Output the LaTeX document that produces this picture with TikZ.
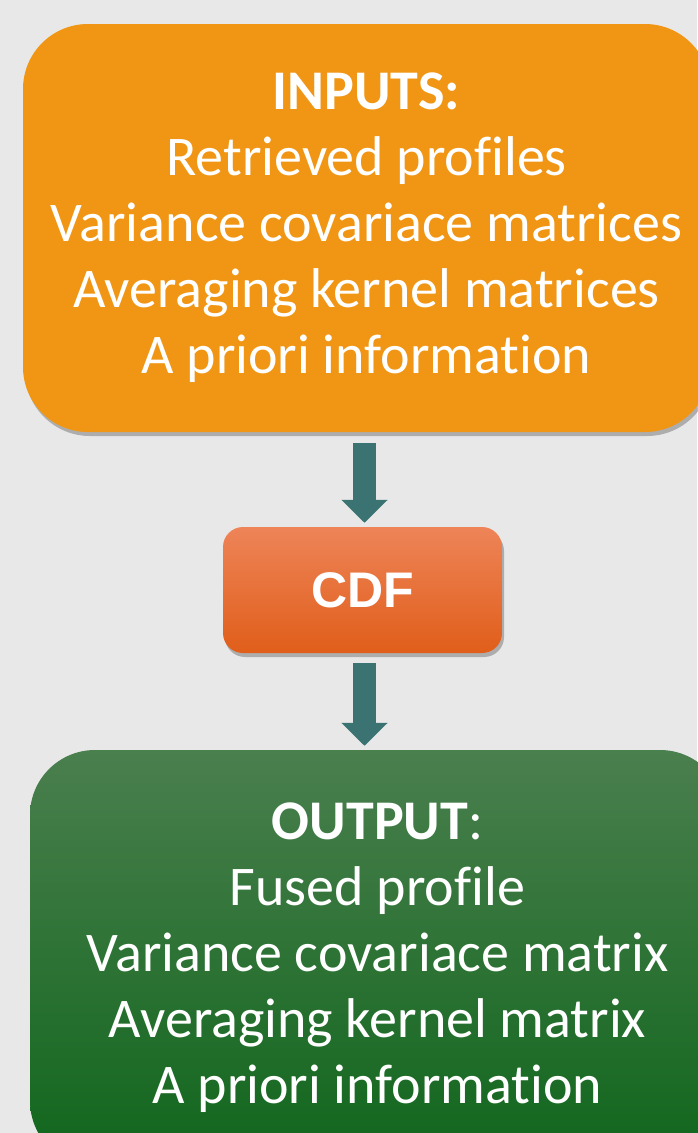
\documentclass[tikz,border=0pt]{standalone}
\usepackage{fontspec}
\setmainfont{Carlito}[Ligatures=NoCommon]
\newfontfamily\cdffont{Liberation Sans}
\usetikzlibrary{shadows,arrows.meta}

\definecolor{bggray}{HTML}{E8E8E8}
\definecolor{inputorange}{HTML}{F09614}
\definecolor{cdftop}{HTML}{EE8458}
\definecolor{cdfmid}{HTML}{F07030}
\definecolor{cdfbot}{HTML}{E05E1A}
\definecolor{outtop}{HTML}{4A7F4E}
\definecolor{outbot}{HTML}{10661C}
\definecolor{arrowteal}{HTML}{3A7372}

\begin{document}
\begin{tikzpicture}[x=1pt, y=-1pt,
	boxshadow/.style={drop shadow={shadow xshift=2pt, shadow yshift=-4pt, opacity=.45, fill=black!60}},
	bigbox/.style={rounded corners=65pt, text=white, align=center, inner sep=0pt,
		font=\fontsize{56}{66}\selectfont, boxshadow},
	flowarrow/.style={draw=arrowteal, line width=23pt, -{Triangle[width=45pt, length=23pt]}}]

	% page and background
	\useasboundingbox (0,0) rectangle (697,1133);
	\fill[bggray] (0,0) rectangle (697,1133);

	% input box
	\node[bigbox, fill=inputorange, minimum width=687pt, minimum height=408pt] (inputs) at (366.5,228)
		{\textbf{INPUTS:}\\Retrieved profiles\\Variance covariace matrices\\Averaging kernel matrices\\A priori information};

	% fusion step
	\node[rounded corners=20pt, boxshadow, top color=cdftop, middle color=cdfmid, bottom color=cdfbot,
		minimum width=279pt, minimum height=126pt, inner sep=0pt, text=white,
		font=\cdffont\bfseries\fontsize{50}{60}\selectfont] (cdf) at (362.5,590) {CDF};

	% output box
	\node[bigbox, top color=outtop, bottom color=outbot, minimum width=695pt, minimum height=416pt] (output) at (377.5,958)
		{\textbf{OUTPUT}:\\Fused profile\\Variance covariace matrix\\Averaging kernel matrix\\A priori information};

	% arrows
	\draw[flowarrow, shorten <=11pt, shorten >=4pt] ([xshift=2pt]inputs.south -| cdf.north) -- ([xshift=2pt]cdf.north);
	\draw[flowarrow, shorten <=10pt, shorten >=4pt] ([xshift=2pt]cdf.south) -- ([xshift=2pt]output.north -| cdf.south);
\end{tikzpicture}
\end{document}
